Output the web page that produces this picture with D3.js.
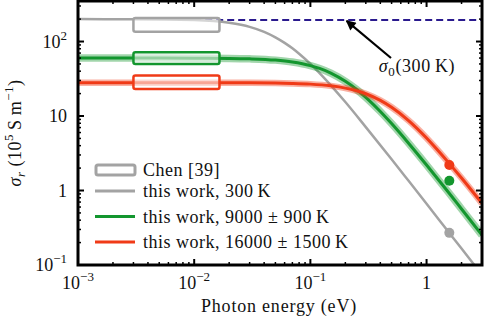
<!DOCTYPE html>
<html>
<head>
<meta charset="utf-8">
<script src="https://cdn.jsdelivr.net/npm/d3@7"></script>
<style>
  body { margin: 0; background: #fff; }
</style>
</head>
<body>
<div id="chart"></div>
<script>
const grayE   = [0.001, 0.003, 0.01, 0.02, 0.03, 0.04, 0.05, 0.06, 0.07, 0.08, 0.1, 0.12, 0.15, 0.2, 0.3, 0.5, 0.7, 1, 1.5, 2, 2.5, 3];
const graySig = [200, 199.5, 194, 178.5, 157.5, 135, 114, 96, 81, 68.4, 50, 37.6, 25.8, 15.4, 7.1, 2.63, 1.35, 0.664, 0.295, 0.166, 0.1065, 0.074];

const greenE   = [0.001, 0.003, 0.01, 0.02, 0.03, 0.05, 0.07, 0.1, 0.12, 0.15, 0.2, 0.25, 0.3, 0.4, 0.5, 0.7, 1, 1.5, 2, 3];
const greenSig = [60, 60, 59.8, 59.4, 58.6, 56.3, 53.1, 47.5, 43.5, 37.7, 29.2, 22.7, 17.8, 11.5, 7.92, 4.32, 2.2, 1.0, 0.565, 0.252];

const redE   = [0.001, 0.003, 0.01, 0.02, 0.03, 0.05, 0.07, 0.1, 0.15, 0.2, 0.25, 0.3, 0.4, 0.5, 0.7, 1, 1.2, 1.5, 2, 3];
const redSig = [28, 28, 28, 27.95, 27.9, 27.7, 27.4, 26.8, 25.4, 23.7, 21.8, 19.9, 16.2, 13.1, 8.7, 5.07, 3.72, 2.5, 1.47, 0.671];

// Chen [39] ranges: [eMin, eMax, sigMin, sigMax]
const chenGray  = [0.003, 0.0165, 135, 207];
const chenGreen = [0.003, 0.0165, 50, 72];
const chenRed   = [0.003, 0.0165, 23, 35];

// single measured points at 1.57 eV
const dotE = 1.57;
const dotSig = {gray: 0.27, green: 1.35, red: 2.2};

const sigma0 = 195;          // dashed reference level
const sigma0From = 0.01;

const xTicks = [1e-3, 1e-2, 1e-1, 1];
const xTickLabels = [["10", "−3"], ["10", "−2"], ["10", "−1"], ["1", ""]];
const yTicks = [0.1, 1, 10, 100];
const yTickLabels = [["10", "−1"], ["1", ""], ["10", ""], ["10", "2"]];

const legendLabels = ["Chen [39]", "this work, 300\u2009K", "this work, 9000 ± 900\u2009K", "this work, 16000 ± 1500\u2009K"];

const colors = {gray: "#a3a3a3", green: "#13962e", red: "#f03a17", navy: "#2a1a8e"};

const W = 484, H = 319;
const m = {left: 78, right: 482, top: 1, bottom: 265};
const serif = "'Liberation Serif', 'DejaVu Serif', 'Times New Roman', serif";
const fs = 18, sup = 13;

const svg = d3.select("#chart").append("svg")
  .attr("width", W).attr("height", H)
  .attr("font-family", serif)
  .attr("fill", "#111");

const x = d3.scaleLog().domain([1e-3, 3]).range([m.left, m.right]);
const y = d3.scaleLog().domain([0.1, 350]).range([m.bottom, m.top]);

svg.append("clipPath").attr("id", "clip")
  .append("rect").attr("x", m.left).attr("y", m.top).attr("width", m.right - m.left).attr("height", m.bottom - m.top);

const plot = svg.append("g").attr("clip-path", "url(#clip)");

const line = d3.line()
  .x(d => x(d[0])).y(d => y(d[1]))
  .curve(d3.curveMonotoneX);

const zip = (a, b) => a.map((v, i) => [v, b[i]]);

// sigma0 dashed line
plot.append("line")
  .attr("x1", x(sigma0From)).attr("x2", m.right)
  .attr("y1", y(sigma0)).attr("y2", y(sigma0))
  .attr("stroke", colors.navy).attr("stroke-width", 2)
  .attr("stroke-dasharray", "7,4");

// gray curve
plot.append("path").datum(zip(grayE, graySig))
  .attr("d", line).attr("fill", "none")
  .attr("stroke", colors.gray).attr("stroke-width", 2.5);

// green and red with uncertainty band
[[greenE, greenSig, colors.green, 7.5], [redE, redSig, colors.red, 6.5]].forEach(([e, s, c, bw]) => {
  plot.append("path").datum(zip(e, s))
    .attr("d", line).attr("fill", "none")
    .attr("stroke", c).attr("stroke-opacity", 0.4).attr("stroke-width", bw);
  plot.append("path").datum(zip(e, s))
    .attr("d", line).attr("fill", "none")
    .attr("stroke", c).attr("stroke-width", 3);
});

// Chen boxes
[[chenGray, colors.gray], [chenGreen, colors.green], [chenRed, colors.red]].forEach(([r, c]) => {
  plot.append("rect")
    .attr("x", x(r[0])).attr("y", y(r[3]))
    .attr("width", x(r[1]) - x(r[0])).attr("height", y(r[2]) - y(r[3]))
    .attr("rx", 2)
    .attr("fill", "#fff").attr("fill-opacity", 0.55)
    .attr("stroke", c).attr("stroke-width", 2.5);
});

// dots
[["gray", colors.gray], ["green", colors.green], ["red", colors.red]].forEach(([k, c]) => {
  plot.append("circle")
    .attr("cx", x(dotE)).attr("cy", y(dotSig[k])).attr("r", 5)
    .attr("fill", c);
});

// frame and ticks
const frame = svg.append("g");
function logTicks(lo, hi) {
  const out = [];
  for (let p = Math.floor(Math.log10(lo)); p <= Math.ceil(Math.log10(hi)); p++) {
    for (let k = 1; k < 10; k++) {
      const v = k * Math.pow(10, p);
      if (v >= lo && v <= hi) out.push({v, major: k === 1});
    }
  }
  return out;
}
logTicks(1e-3, 3).forEach(t => {
  const len = t.major ? 6 : 3;
  const px = x(t.v);
  frame.append("line").attr("x1", px).attr("x2", px).attr("y1", m.bottom).attr("y2", m.bottom - len)
    .attr("stroke", "#000").attr("stroke-width", t.major ? 2 : 1.5);
  frame.append("line").attr("x1", px).attr("x2", px).attr("y1", m.top).attr("y2", m.top + len)
    .attr("stroke", "#000").attr("stroke-width", t.major ? 2 : 1.5);
});
logTicks(0.1, 350).forEach(t => {
  const len = t.major ? 6 : 3;
  const py = y(t.v);
  frame.append("line").attr("x1", m.left).attr("x2", m.left + len).attr("y1", py).attr("y2", py)
    .attr("stroke", "#000").attr("stroke-width", t.major ? 2 : 1.5);
  frame.append("line").attr("x1", m.right).attr("x2", m.right - len).attr("y1", py).attr("y2", py)
    .attr("stroke", "#000").attr("stroke-width", t.major ? 2 : 1.5);
});
frame.append("rect")
  .attr("x", m.left).attr("y", m.top).attr("width", m.right - m.left).attr("height", m.bottom - m.top)
  .attr("fill", "none").attr("stroke", "#000").attr("stroke-width", 3);

// tick labels
xTicks.forEach((v, i) => {
  const t = svg.append("text").attr("x", x(v)).attr("y", 289)
    .attr("text-anchor", "middle").attr("font-size", fs);
  t.append("tspan").text(xTickLabels[i][0]);
  if (xTickLabels[i][1]) t.append("tspan").attr("dy", -8).attr("font-size", sup).text(xTickLabels[i][1]);
});
yTicks.forEach((v, i) => {
  const t = svg.append("text").attr("x", 67).attr("y", y(v) + 6)
    .attr("text-anchor", "end").attr("font-size", fs);
  t.append("tspan").text(yTickLabels[i][0]);
  if (yTickLabels[i][1]) t.append("tspan").attr("dy", -8).attr("font-size", sup).text(yTickLabels[i][1]);
});

// axis titles
svg.append("text").attr("x", 279).attr("y", 312)
  .attr("text-anchor", "middle").attr("font-size", fs).attr("letter-spacing", 0.8)
  .text("Photon energy (eV)");

const yl = svg.append("text")
  .attr("transform", "translate(21,133) rotate(-90)")
  .attr("text-anchor", "middle").attr("font-size", fs).attr("letter-spacing", 0.5);
yl.append("tspan").attr("font-style", "italic").text("σ");
yl.append("tspan").attr("font-style", "italic").attr("font-size", sup).attr("dy", 4).text("r");
yl.append("tspan").attr("dy", -4).text(" (10");
yl.append("tspan").attr("font-size", sup).attr("dy", -8).text("5");
yl.append("tspan").attr("dy", 8).text("\u2009S\u2009m");
yl.append("tspan").attr("font-size", sup).attr("dy", -8).text("−1");
yl.append("tspan").attr("dy", 8).text(")");

// sigma0 annotation
svg.append("defs").append("marker")
  .attr("id", "arrow").attr("viewBox", "0 0 10 10").attr("refX", 9).attr("refY", 5)
  .attr("markerWidth", 5.5).attr("markerHeight", 4.5).attr("orient", "auto")
  .append("path").attr("d", "M0,0 L10,5 L0,10 Z").attr("fill", "#000");
svg.append("line")
  .attr("x1", 391).attr("y1", 58).attr("x2", x(0.205)).attr("y2", y(sigma0) + 1)
  .attr("stroke", "#000").attr("stroke-width", 2.2).attr("marker-end", "url(#arrow)");
const ann = svg.append("text").attr("x", 417).attr("y", 72)
  .attr("text-anchor", "middle").attr("font-size", fs).attr("letter-spacing", 0.6);
ann.append("tspan").attr("font-style", "italic").text("σ");
ann.append("tspan").attr("font-size", sup).attr("dy", 4).text("0");
ann.append("tspan").attr("dy", -4).text("(300\u2009K)");

// legend
const lg = svg.append("g");
const rowY = [170, 191, 216.5, 242];
lg.append("rect").attr("x", 96).attr("y", rowY[0] - 5).attr("width", 39).attr("height", 10).attr("rx", 2)
  .attr("fill", "#fff").attr("stroke", colors.gray).attr("stroke-width", 3);
[colors.gray, colors.green, colors.red].forEach((c, i) => {
  lg.append("line").attr("x1", 95).attr("x2", 135).attr("y1", rowY[i + 1]).attr("y2", rowY[i + 1])
    .attr("stroke", c).attr("stroke-width", 3);
});
legendLabels.forEach((l, i) => {
  lg.append("text").attr("x", 143).attr("y", rowY[i] + 6).attr("font-size", fs)
    .attr("letter-spacing", 0.5).text(l);
});
</script>
</body>
</html>
